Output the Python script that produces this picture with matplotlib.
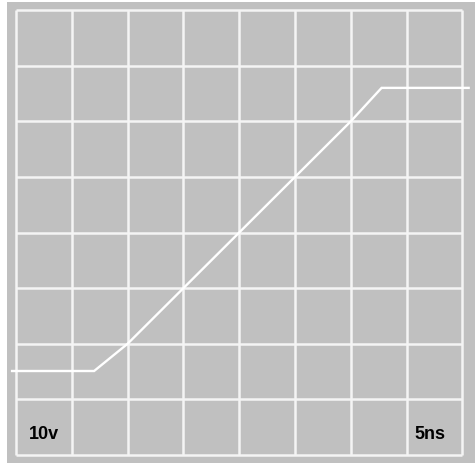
import matplotlib
matplotlib.use("Agg")
import matplotlib.pyplot as plt

# scope trace, in screen divisions (10v/div, 5ns/div)
time_div = [-0.07, 1.40, 2.0, 4.0, 6.0, 6.55, 8.11]
volt_div = [1.51, 1.51, 2.0, 4.0, 6.0, 6.6, 6.6]
grid_divs = list(range(9))
volt_label = "10v"
time_label = "5ns"

W, H = 475, 463
fig = plt.figure(figsize=(W / 100, H / 100), dpi=100)
fig.patch.set_facecolor("white")

# axes fill the grey screen area
ax = fig.add_axes([7 / W, 0, (W - 7) / W, (H - 2) / H])
ax.set_facecolor("#c0c0c0")
ax.set_xlim(-0.161, 8.224)
ax.set_ylim(-0.144, 8.144)
ax.set_xticks([])
ax.set_yticks([])
for s in ax.spines.values():
    s.set_visible(False)

# graticule only inside the 8x8 box
ax.hlines(grid_divs, grid_divs[0], grid_divs[-1], color="#f4f4f4", linewidth=1.8)
ax.vlines(grid_divs, grid_divs[0], grid_divs[-1], color="#f4f4f4", linewidth=1.8)

ax.plot(time_div, volt_div, color="white", linewidth=1.7, solid_joinstyle="miter")

fig.text(29 / W, 1 - 439 / H, volt_label, fontsize=13, fontweight="bold",
         family=["Liberation Sans", "DejaVu Sans"], va="baseline", ha="left")
fig.text(414 / W, 1 - 439 / H, time_label, fontsize=13, fontweight="bold",
         family=["Liberation Sans", "DejaVu Sans"], va="baseline", ha="left")

fig.savefig("out.png", dpi=100)
plt.close(fig)
